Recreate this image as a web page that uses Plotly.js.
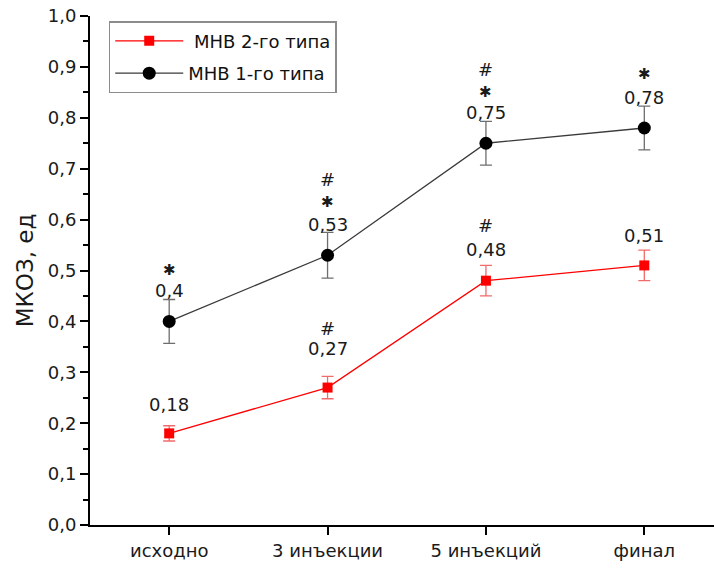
<!DOCTYPE html>
<html><head><meta charset="utf-8">
<script src="https://cdn.plot.ly/plotly-3.0.1.min.js"></script>
<style>body{margin:0;background:#fff}#chart{width:714px;height:568px}</style>
</head><body><div id="chart"></div>
<script>
const categories = ["исходно", "3 инъекции", "5 инъекций", "финал"];
const type2Name = " МНВ 2-го типа";
const type2Values = [0.18, 0.27, 0.48, 0.51];
const type2Errors = [0.015, 0.022, 0.03, 0.03];
const type2Labels = ["0,18", "0,27", "0,48", "0,51"];
const type2Stars = [false, false, false, false];
const type2Hashes = [false, true, true, false];
const type1Name = "МНВ 1-го типа";
const type1Values = [0.40, 0.53, 0.75, 0.78];
const type1Errors = [0.043, 0.045, 0.043, 0.043];
const type1Labels = ["0,4", "0,53", "0,75", "0,78"];
const type1Stars = [true, true, true, true];
const type1Hashes = [false, true, true, false];
const yTickVals = [0,0.1,0.2,0.3,0.4,0.5,0.6,0.7,0.8,0.9,1.0];
const yTickText = ["0,0","0,1","0,2","0,3","0,4","0,5","0,6","0,7","0,8","0,9","1,0"];

// pixel offsets for annotation placement (layout only)
const labelShift2 = [21, 28, 16, 15];
const hashRel2 = [0, 20, 24, 0];
const labelShift1 = [9, 8, 9, 9];
const starRel1 = [21, 22, 20, 23];
const hashRel1 = [0, 45, 43, 0];

const FONT = "DejaVu Sans, Verdana, sans-serif";
const xi = categories.map((c,i)=>i);
const traces = [
  {x: xi, y: type2Values, name: type2Name, legendgroup: "a", type: "scatter", mode: "lines+markers",
   line: {color: "#ff0000", width: 1.3}, marker: {symbol: "square", size: 10, color: "#ff0000"},
   error_y: {type: "data", array: type2Errors, visible: true, color: "#f26b6b", thickness: 1.3, width: 6}},
  {x: xi, y: type1Values, name: type1Name, legendgroup: "b", type: "scatter", mode: "lines+markers",
   line: {color: "#3a3a3a", width: 1.3}, marker: {symbol: "circle", size: 13, color: "#000000"},
   error_y: {type: "data", array: type1Errors, visible: true, color: "#6e6e6e", thickness: 1.3, width: 6}}
];

const annotations = [];
function ann(x, y, text, shift, size) {
  annotations.push({x: x, y: y, xref: "x", yref: "y", text: text, showarrow: false,
    yanchor: "middle", yshift: shift, font: {size: size, color: "#1a1a1a", family: FONT}});
}
function addLabels(vals, errs, labels, stars, hashes, shifts, starRel, hashRel) {
  vals.forEach((v,i)=>{
    const top = v + errs[i];
    ann(i, top, labels[i], shifts[i], 18);
    if (stars[i]) ann(i, top, "✱", shifts[i] + starRel[i], 15);
    if (hashes[i]) ann(i, top, "#", shifts[i] + hashRel[i], 18);
  });
}
addLabels(type2Values, type2Errors, type2Labels, type2Stars, type2Hashes, labelShift2, [0,0,0,0], hashRel2);
addLabels(type1Values, type1Errors, type1Labels, type1Stars, type1Hashes, labelShift1, starRel1, hashRel1);

const layout = {
  width: 714, height: 568,
  margin: {l: 90, r: 0, t: 16, b: 43},
  paper_bgcolor: "#ffffff", plot_bgcolor: "#ffffff",
  font: {family: FONT, color: "#1a1a1a"},
  showlegend: true,
  legend: {x: 0.03, y: 0.99, xanchor: "left", yanchor: "top", bordercolor: "#8c8c8c", borderwidth: 1.5,
    bgcolor: "#ffffff", font: {size: 18, color: "#111", family: FONT}, tracegroupgap: 6, itemwidth: 68,
    entrywidth: 272, entrywidthmode: "pixels"},
  xaxis: {range: [-0.5, 3.44], tickmode: "array", tickvals: xi, ticktext: categories,
    showgrid: false, zeroline: false, showline: true, linecolor: "#000", linewidth: 2,
    ticks: "outside", ticklen: 8, tickwidth: 2, tickcolor: "#000",
    tickfont: {size: 18, color: "#1a1a1a"}},
  yaxis: {range: [0, 1.0], tickmode: "array", tickvals: yTickVals, ticktext: yTickText,
    showgrid: false, zeroline: false, showline: true, linecolor: "#000", linewidth: 2,
    ticks: "outside", ticklen: 8, tickwidth: 2, tickcolor: "#000",
    tickfont: {size: 18, color: "#1a1a1a"},
    minor: {dtick: 0.05, ticks: "outside", ticklen: 5, tickwidth: 2, tickcolor: "#000", showgrid: false},
    title: {text: "МКОЗ, ед", font: {size: 23, color: "#1a1a1a"}, standoff: 8}},
  annotations: annotations
};
Plotly.newPlot("chart", traces, layout, {displayModeBar: false, staticPlot: true});
</script></body></html>
